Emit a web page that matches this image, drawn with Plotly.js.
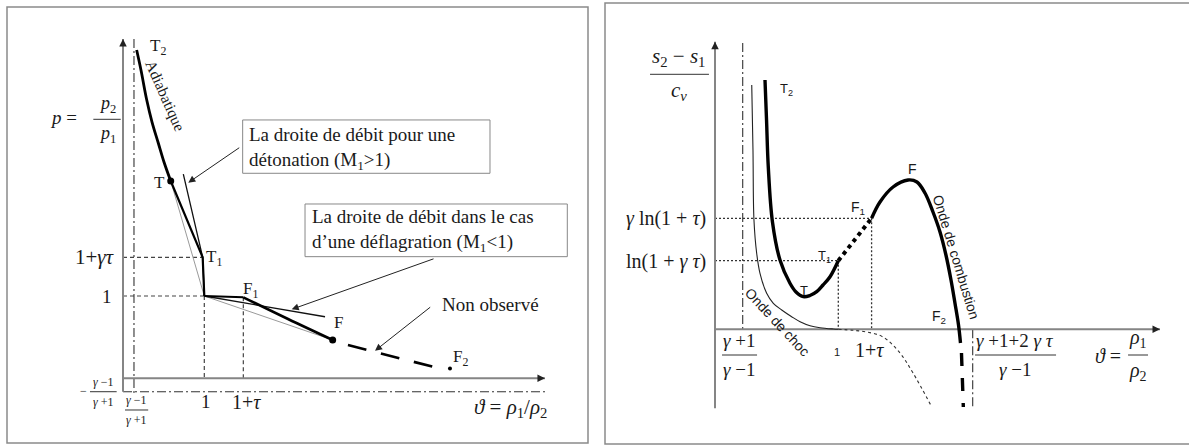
<!DOCTYPE html>
<html>
<head>
<meta charset="utf-8">
<script src="https://cdn.plot.ly/plotly-3.0.1.min.js"></script>
<style>
  html, body { margin: 0; padding: 0; background: #fff; }
  #chart { width: 1189px; height: 446px; }
</style>
</head>
<body>
<div id="chart"></div>
<script>
// ===== Left diagram: Hugoniot adiabat in the (ϑ, p) plane =====
// Adiabat branch from T2 down to the tangency point T
const adiabatTheta = [0.168, 0.221, 0.292, 0.357, 0.434, 0.504, 0.587];
const adiabatP     = [3.989, 3.746, 3.382, 3.114, 2.859, 2.628, 2.397];
// Straight part of the detonation branch T -> T1, then T1 -> origin point (1, 1)
const detBranchTheta = [0.587, 0.98, 1];
const detBranchP     = [2.397, 1.47, 1];
// Rayleigh line of a detonation (thin), and the tangent through T (grey)
const detLineTheta = [0.742, 0.98, 1];
const detLineP     = [2.482, 1.47, 1];
const cjDetTheta   = [0.587, 1];
const cjDetP       = [2.397, 1];
// Deflagration side: (1,1) -> F1 -> F
const oToF1Theta = [1, 1.48];
const oToF1P     = [1, 0.984];
const deflBranchTheta = [1.48, 2.03, 2.579];
const deflBranchP     = [0.984, 0.72, 0.465];
// Rayleigh line of a deflagration (thin), and the tangent through F (grey)
const deflLineTheta = [1, 2.485];
const deflLineP     = [1, 0.748];
const cjDeflTheta   = [1, 2.579];
const cjDeflP       = [1, 0.465];
// Unobserved part F -> F2
const unobsTheta = [2.767, 3.808];
const unobsP     = [0.405, 0.141];
// Marked points T, F, F2
const dotTheta = [0.587, 2.579];
const dotP     = [2.397, 0.465];
const f2Theta = [4.022];
const f2P     = [0.12];
// Reference values on the axes
const thetaOne = 1, thetaOnePlusTau = 1.48;
const pOne = 1, pOnePlusGammaTau = 1.47;
const thetaMin = 0.135, pMin = -0.163;
const leftAxisTop = 4.123, leftAxisEnd = 5.19, leftDashEnd = 5.215;

// ===== Right diagram: entropy jump (s2 - s1)/cv against ϑ =====
const shockTheta = [0.298, 0.308, 0.316, 0.338, 0.365, 0.419, 0.473, 0.541, 0.622, 0.690, 0.771, 0.852, 0.959, 1.0];
const shockS     = [2.443, 1.793, 1.093, 0.760, 0.560, 0.360, 0.260, 0.193, 0.126, 0.076, 0.036, 0.016, 0.003, 0.0];
const shockTailTheta = [1.0, 1.119, 1.230, 1.363, 1.500, 1.606, 1.757];
const shockTailS     = [0.0, -0.010, -0.027, -0.077, -0.237, -0.437, -0.774];
const detCurveTheta = [0.4055, 0.418, 0.432, 0.466, 0.527, 0.608, 0.657, 0.716, 0.770, 0.825, 0.876, 0.933, 1.0];
const detCurveS     = [2.493, 2.093, 1.626, 1.073, 0.693, 0.460, 0.373, 0.326, 0.338, 0.376, 0.443, 0.526, 0.686];
const gapTheta = [1.0, 1.27];
const gapS     = [0.686, 1.11];
const deflCurveTheta = [1.27, 1.338, 1.444, 1.566, 1.638, 1.703, 1.768, 1.825, 1.873, 1.914, 1.946, 1.975, 1.991];
const deflCurveS     = [1.11, 1.273, 1.423, 1.493, 1.473, 1.363, 1.173, 0.973, 0.743, 0.493, 0.263, 0.043, -0.137];
const deflTailTheta = [1.999, 2.014];
const deflTailS     = [-0.237, -0.777];
const rThetaOne = 1, rThetaOnePlusTau = 1.27;
const sLnOnePlusGammaTau = 0.686, sGammaLnOnePlusTau = 1.11;
const rThetaMin = 0.2247, rThetaMax = 2.09;
const rAxisTop = 2.876, rAxisBottom = -0.79, rAxisEnd = 3.609;
const rDashTop = 2.863, rDashBottom = -0.774;

const SERIF = 'Liberation Serif, Times New Roman, serif';
const SANS = 'Liberation Sans, Arial, sans-serif';
const AXIS_GREY = '#858585';

function line(side, xs, ys, color, width, dash, shape) {
  return {
    type: 'scatter', mode: 'lines', x: xs, y: ys,
    xaxis: side === 'L' ? 'x' : 'x2', yaxis: side === 'L' ? 'y' : 'y2',
    line: { color: color, width: width, dash: dash || 'solid', shape: shape || 'linear', smoothing: 1 },
    hoverinfo: 'skip', showlegend: false
  };
}
function dots(side, xs, ys, size) {
  return {
    type: 'scatter', mode: 'markers', x: xs, y: ys,
    xaxis: side === 'L' ? 'x' : 'x2', yaxis: side === 'L' ? 'y' : 'y2',
    marker: { color: '#000', size: size }, hoverinfo: 'skip', showlegend: false
  };
}

const DASH_DOT = '9px,3px,2px,3px';
const traces = [
  // --- left: guides and axes ---
  line('L', [0, detBranchTheta[1], null, 0, thetaOne, null, thetaOne, thetaOne, null, thetaOnePlusTau, thetaOnePlusTau],
            [pOnePlusGammaTau, pOnePlusGammaTau, null, pOne, pOne, null, pOne, 0, null, oToF1P[1], 0],
       '#444', 1.2, '4px,3px'),
  line('L', [0, leftDashEnd], [pMin, pMin], '#333', 1.1, DASH_DOT),
  line('L', [thetaMin, thetaMin], [leftAxisTop, -0.2], '#333', 1.1, DASH_DOT),
  line('L', [0, 0], [pMin, leftAxisTop], AXIS_GREY, 2),
  line('L', [0, leftAxisEnd], [0, 0], AXIS_GREY, 2),
  // --- left: curves ---
  line('L', cjDetTheta, cjDetP, '#9a9a9a', 1),
  line('L', cjDeflTheta, cjDeflP, '#9a9a9a', 1),
  line('L', detLineTheta, detLineP, '#111', 1.3),
  line('L', deflLineTheta, deflLineP, '#111', 1.3),
  line('L', adiabatTheta, adiabatP, '#000', 2.8, 'solid', 'spline'),
  line('L', detBranchTheta, detBranchP, '#000', 2.2),
  line('L', oToF1Theta, oToF1P, '#000', 2),
  line('L', deflBranchTheta, deflBranchP, '#000', 2.6, 'solid', 'spline'),
  line('L', unobsTheta, unobsP, '#000', 2.6, '19px,15px'),
  dots('L', dotTheta, dotP, 7),
  dots('L', f2Theta, f2P, 4),

  // --- right: guides and axes ---
  line('R', [0, rThetaOnePlusTau, null, 0, rThetaOne, null, rThetaOne, rThetaOne, null, rThetaOnePlusTau, rThetaOnePlusTau],
            [sGammaLnOnePlusTau, sGammaLnOnePlusTau, null, sLnOnePlusGammaTau, sLnOnePlusGammaTau, null, sLnOnePlusGammaTau, 0, null, sGammaLnOnePlusTau, 0],
       '#333', 1.3, '2px,2px'),
  line('R', [rThetaMin, rThetaMin], [rDashTop, 0], '#333', 1.1, DASH_DOT),
  line('R', [rThetaMax, rThetaMax], [0, rDashBottom], '#333', 1.1, DASH_DOT),
  line('R', [0, 0], [rAxisBottom, rAxisTop], AXIS_GREY, 2),
  line('R', [0, rAxisEnd], [0, 0], AXIS_GREY, 2),
  // --- right: curves ---
  line('R', shockTheta, shockS, '#222', 1.1, 'solid', 'spline'),
  line('R', shockTailTheta, shockTailS, '#333', 1.1, '3px,3px', 'spline'),
  line('R', detCurveTheta, detCurveS, '#000', 3.4, 'solid', 'spline'),
  line('R', gapTheta, gapS, '#000', 4, '4px,4px'),
  line('R', deflCurveTheta, deflCurveS, '#000', 3.4, 'solid', 'spline'),
  line('R', deflTailTheta, deflTailS, '#000', 3.4, '13px,12px')
];

function txt(side, x, y, text, size, family, extra) {
  return Object.assign({
    xref: side === 'L' ? 'x' : 'x2', yref: side === 'L' ? 'y' : 'y2',
    x: x, y: y, text: text, showarrow: false,
    font: { family: family || SERIF, size: size, color: '#1a1a1a' }
  }, extra || {});
}
function arrow(side, hx, hy, tx, ty, width, size) {
  const xr = side === 'L' ? 'x' : 'x2', yr = side === 'L' ? 'y' : 'y2';
  return {
    xref: xr, yref: yr, axref: xr, ayref: yr,
    x: hx, y: hy, ax: tx, ay: ty, text: '', showarrow: true,
    arrowhead: 2, arrowsize: size || 1.4, arrowwidth: width || 1, arrowcolor: '#222', standoff: 0
  };
}

const annotations = [
  // left labels
  txt('L', 0.4305, 4.026, 'T<sub>2</sub>', 17),
  txt('L', 0.523, 3.44, 'Adiabatique', 15.5, SERIF, { textangle: 66 }),
  txt('L', 0.443, 2.385, 'T', 17),
  txt('L', 1.119, 1.462, 'T<sub>1</sub>', 17),
  txt('L', 1.574, 1.073, 'F<sub>1</sub>', 17),
  txt('L', 2.645, 0.684, 'F', 17),
  txt('L', 4.157, 0.247, 'F<sub>2</sub>', 17),
  txt('L', 4.526, 0.891, 'Non observé', 19),
  txt('L', 1.522, 2.797, 'La droite de débit pour une<br>détonation (M<sub>1</sub>&gt;1)', 19, SERIF, { xanchor: 'left', align: 'left' }),
  txt('L', 2.300, 1.793, 'La droite de débit dans le cas<br>d’une déflagration (M<sub>1</sub>&lt;1)', 19, SERIF, { xanchor: 'left', align: 'left' }),
  txt('L', -0.726, 3.163, '<i>p</i> =', 19),
  txt('L', -0.191, 3.167, '<i>p</i><sub>2</sub>', 18, SERIF, { yanchor: 'bottom' }),
  txt('L', -0.191, 3.127, '<i>p</i><sub>1</sub>', 18, SERIF, { yanchor: 'top' }),
  txt('L', -0.344, 1.474, '1+<i>γτ</i>', 21),
  txt('L', -0.2, 0.988, '1', 19),
  txt('L', -0.492, -0.158, '−', 12),
  txt('L', -0.242, -0.153, '<i>γ</i> −1', 12, SERIF, { yanchor: 'bottom' }),
  txt('L', -0.242, -0.173, '<i>γ</i> +1', 12, SERIF, { yanchor: 'top' }),
  txt('L', 0.168, -0.375, '<i>γ</i> −1', 12, SERIF, { yanchor: 'bottom' }),
  txt('L', 0.168, -0.395, '<i>γ</i> +1', 12, SERIF, { yanchor: 'top' }),
  txt('L', 1.021, -0.286, '1', 19),
  txt('L', 1.521, -0.284, '1+<i>τ</i>', 20),
  txt('L', 4.772, -0.365, '<i>ϑ</i> = <i>ρ</i><sub>1</sub>/<i>ρ</i><sub>2</sub>', 21),
  // left arrows
  arrow('L', 0.803, 2.377, 1.448, 2.814),
  arrow('L', 2.075, 0.838, 3.838, 1.458),
  arrow('L', 3.100, 0.335, 3.797, 0.878),
  arrow('L', 0, leftAxisTop, 0, leftAxisTop - 0.08, 1.5, 1),
  arrow('L', leftAxisEnd, 0, leftAxisEnd - 0.08, 0, 1.5, 1),

  // right labels
  txt('R', -0.300, 2.57, '<i>s</i><sub>2</sub> − <i>s</i><sub>1</sub>', 21, SERIF, { yanchor: 'bottom' }),
  txt('R', -0.290, 2.53, '<i>c</i><sub><i>v</i></sub>', 21, SERIF, { yanchor: 'top' }),
  txt('R', -0.057, 1.113, '<i>γ</i> ln(1 + <i>τ</i>)', 20, SERIF, { xanchor: 'right' }),
  txt('R', -0.057, 0.683, 'ln(1 + <i>γ τ</i>)', 20, SERIF, { xanchor: 'right' }),
  txt('R', 0.195, -0.237, '<i>γ</i> +1', 19, SERIF, { yanchor: 'bottom' }),
  txt('R', 0.195, -0.277, '<i>γ</i> −1', 19, SERIF, { yanchor: 'top' }),
  txt('R', 0.507, 0.076, 'Onde de choc', 14, SANS, { textangle: 47 }),
  txt('R', 0.992, -0.224, '1', 11, SANS),
  txt('R', 1.257, -0.207, '1+<i>τ</i>', 20),
  txt('R', 0.576, 2.403, 'T<sub>2</sub>', 13, SANS),
  txt('R', 0.722, 0.393, 'T', 13, SANS),
  txt('R', 0.892, 0.733, 'T<sub>1</sub>', 13, SANS),
  txt('R', 1.160, 1.213, 'F<sub>1</sub>', 14, SANS),
  txt('R', 1.598, 1.603, 'F', 14, SANS),
  txt('R', 1.817, 0.123, 'F<sub>2</sub>', 14, SANS),
  txt('R', 1.958, 0.726, 'Onde de combustion', 14, SANS, { textangle: 73 }),
  txt('R', 2.433, -0.237, '<i>γ</i> +1+2 <i>γ τ</i>', 19, SERIF, { yanchor: 'bottom' }),
  txt('R', 2.433, -0.277, '<i>γ</i> −1', 19, SERIF, { yanchor: 'top' }),
  txt('R', 3.187, -0.267, '<i>ϑ</i> =', 20),
  txt('R', 3.431, -0.237, '<i>ρ</i><sub>1</sub>', 20, SERIF, { yanchor: 'bottom' }),
  txt('R', 3.431, -0.277, '<i>ρ</i><sub>2</sub>', 20, SERIF, { yanchor: 'top' }),
  arrow('R', 0, rAxisTop, 0, rAxisTop - 0.06, 1.5, 1),
  arrow('R', rAxisEnd, 0, rAxisEnd - 0.05, 0, 1.5, 1)
];

function bar(side, x0, x1, y) {
  return { type: 'line', xref: side === 'L' ? 'x' : 'x2', yref: side === 'L' ? 'y' : 'y2',
           x0: x0, x1: x1, y0: y, y1: y, line: { color: '#333', width: 1 } };
}
const shapes = [
  // panel frames
  { type: 'rect', xref: 'paper', yref: 'paper', x0: 7 / 1189, x1: 588 / 1189, y0: 3 / 446, y1: 439 / 446,
    line: { color: '#8a8a8a', width: 1.5 } },
  { type: 'rect', xref: 'paper', yref: 'paper', x0: 605 / 1189, x1: 1196 / 1189, y0: 2 / 446, y1: 443 / 446,
    line: { color: '#8a8a8a', width: 1.5 } },
  // callout boxes
  { type: 'rect', xref: 'x', yref: 'y', x0: 1.472, x1: 4.514, y0: 2.491, y1: 3.139, line: { color: '#888', width: 1 } },
  { type: 'rect', xref: 'x', yref: 'y', x0: 2.239, x1: 5.465, y0: 1.478, y1: 2.118, line: { color: '#888', width: 1 } },
  // fraction bars
  bar('L', -0.365, -0.028, 3.147),
  bar('L', -0.406, -0.078, -0.163),
  bar('L', 0.025, 0.31, -0.385),
  bar('R', -0.527, -0.049, 2.55),
  bar('R', 0.057, 0.341, -0.257),
  bar('R', 2.109, 2.766, -0.257),
  bar('R', 3.35, 3.512, -0.257)
];

const hidden = { visible: false, fixedrange: true };
const layout = {
  width: 1189, height: 446,
  margin: { l: 0, r: 0, t: 0, b: 0 },
  paper_bgcolor: '#fff', plot_bgcolor: 'rgba(0,0,0,0)',
  showlegend: false,
  xaxis:  Object.assign({ domain: [7 / 1189, 588 / 1189], range: [(7 - 123) / 81.3, (588 - 123) / 81.3], anchor: 'y' }, hidden),
  yaxis:  Object.assign({ domain: [3 / 446, 439 / 446], range: [(378.3 - 443) / 82.3, (378.3 - 7) / 82.3], anchor: 'x' }, hidden),
  xaxis2: Object.assign({ domain: [605 / 1189, 1], range: [(605 - 715) / 123.3, (1189 - 715) / 123.3], anchor: 'y2' }, hidden),
  yaxis2: Object.assign({ domain: [2 / 446, 443 / 446], range: [(329.3 - 444) / 100, (329.3 - 3) / 100], anchor: 'x2' }, hidden),
  annotations: annotations,
  shapes: shapes
};

Plotly.newPlot('chart', traces, layout, { displayModeBar: false });
</script>
</body>
</html>
